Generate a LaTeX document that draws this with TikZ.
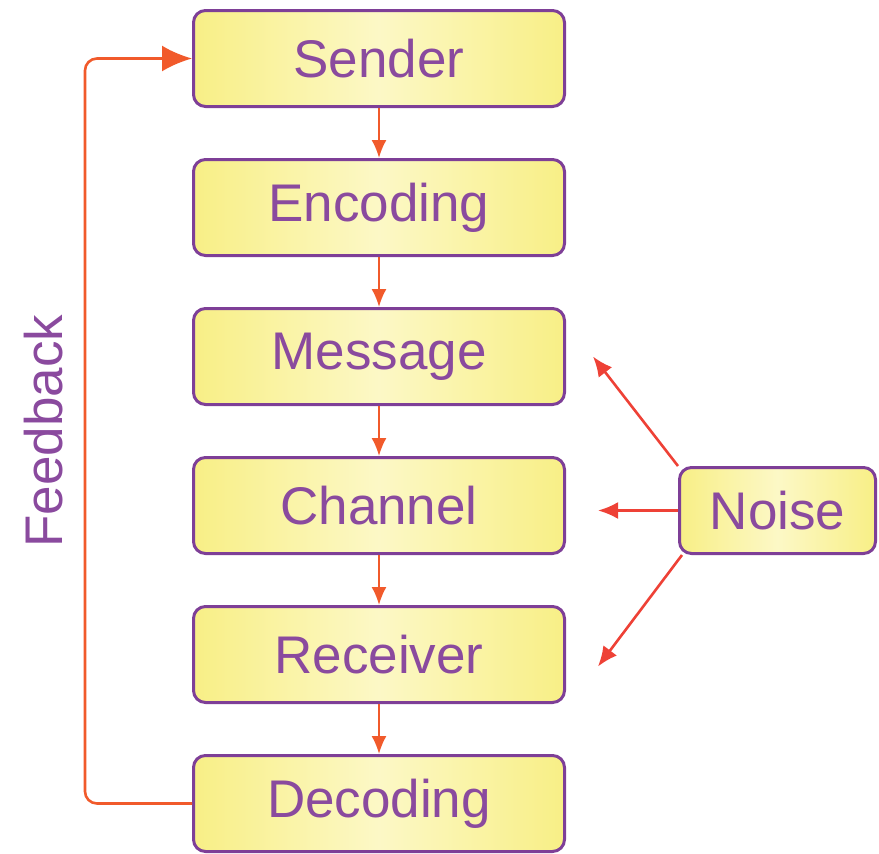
\documentclass[tikz,border=0pt]{standalone}
\usepackage{xcolor}
\usepackage{fontspec}
\setmainfont{Liberation Sans}
\usepackage{tikz}
\usetikzlibrary{arrows.meta,positioning,calc}

\definecolor{boxpurple}{HTML}{7E3F97}
\definecolor{txtpurple}{HTML}{8A4A9E}
\definecolor{edgeyellow}{HTML}{F8EF86}
\definecolor{midyellow}{HTML}{FCF8C6}
\definecolor{flowred}{HTML}{F15A2B}
\definecolor{noisered}{HTML}{EE4136}

\begin{document}
\begin{tikzpicture}[
  x=1pt, y=1pt,
  node distance=25pt and 56pt,
  box/.style={draw=boxpurple, line width=1.5pt, rounded corners=6pt,
    left color=edgeyellow, right color=edgeyellow, middle color=midyellow,
    text=txtpurple, align=center, minimum width=185.5pt, minimum height=48pt,
    font=\fontsize{26.5}{30}\selectfont},
  arrow/.style={-{Latex[length=9pt, width=7.5pt]}, line width=1pt, flowred},
  noisearrow/.style={-{Latex[length=10pt, width=8.5pt]}, line width=1.3pt, noisered},
  fbarrow/.style={-{Latex[length=15pt, width=13pt]}, line width=1.3pt, flowred, rounded corners=6pt}
]
\useasboundingbox (0,0) rectangle (439.5,-426.5);

% Main chain
\node[box] (sender) at (189.5,-29.25) {Sender};
\node[box, below=of sender] (encoding) {Encoding};
\node[box, below=of encoding] (message) {Message};
\node[box, below=of message] (channel) {Channel};
\node[box, below=of channel] (receiver) {Receiver};
\node[box, below=of receiver] (decoding) {Decoding};

% Noise
\node[box, right=of channel, yshift=-2.5pt, minimum width=98pt, minimum height=43pt] (noise) {Noise};

% Feedback label
\node[text=txtpurple, rotate=90, font=\fontsize{26.5}{30}\selectfont] (fblabel) at (22,-215.5) {Feedback};

% Arrows
\draw[arrow] (sender) -- (encoding);
\draw[arrow] (encoding) -- (message);
\draw[arrow] (message) -- (channel);
\draw[arrow] (channel) -- (receiver);
\draw[arrow] (receiver) -- (decoding);
\draw[fbarrow] (decoding.west) -- ++(-53.5,0) |- (sender.west);

\draw[noisearrow] (noise.north west) -- ($(message.east)+(13.5,0)$);
\draw[noisearrow] (noise.west) -- ++(-40,0);
\draw[noisearrow] ([xshift=2pt]noise.south west) -- ($(receiver.east)+(16,-6)$);

\end{tikzpicture}
\end{document}
